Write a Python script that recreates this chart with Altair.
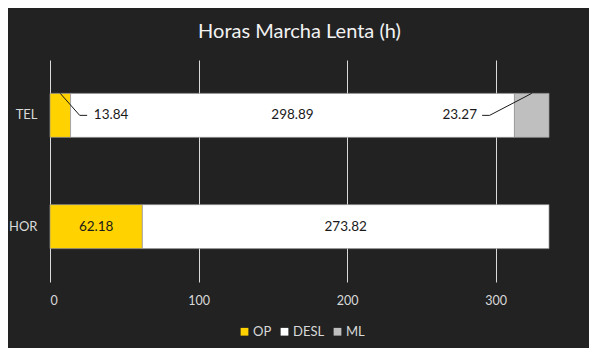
import altair as alt
import pandas as pd

categories = ["TEL", "HOR"]
series = ["OP", "DESL", "ML"]
op_vals = [13.84, 62.18]
desl_vals = [298.89, 273.82]
ml_vals = [23.27, 0.0]
colors = ["#FFD200", "#FFFFFF", "#BFBFBF"]

rows = []
for i, c in enumerate(categories):
    start = 0.0
    for s, v in zip(series, [op_vals[i], desl_vals[i], ml_vals[i]]):
        rows.append({"cat": c, "serie": s, "val": v, "start": start, "end": start + v,
                     "order": series.index(s)})
        start += v
df = pd.DataFrame(rows)
df = df[df["val"] > 0]

centered = df[~((df["cat"] == "TEL") & (df["serie"].isin(["OP", "ML"])))].copy()
centered["mid"] = (centered["start"] + centered["end"]) / 2
centered["txt"] = centered["val"].map(lambda v: f"{v:.2f}")

callout_cat = ["TEL", "TEL"]
callout_txt = ["13.84", "23.27"]
callout_from = [6.9, 324.4]
callout_elbow = [20.0, 296.0]
callout_end = [25.0, 291.0]
callout_label = [29.5, 287.5]
callout_align = ["left", "right"]
cdf = pd.DataFrame({"cat": callout_cat, "txt": callout_txt, "x0": callout_from,
                    "x1": callout_elbow, "x2": callout_end, "xl": callout_label,
                    "al": callout_align})

FONT = "Lato"
xscale = alt.Scale(domain=[0, 336], nice=False)
yscale = alt.Scale(domain=categories, paddingInner=0.605, paddingOuter=0.3)

base = alt.Chart(df)
bars = base.mark_bar(stroke="#9a9a9a", strokeWidth=0.7).encode(
    x=alt.X("start:Q", scale=xscale, title=None,
            axis=alt.Axis(values=[0, 100, 200, 300], grid=True, gridColor="#D9D9D9",
                          gridWidth=1, domain=False, ticks=False, labelColor="#D9D9D9",
                          labelFontSize=12.5, labelFont=FONT, labelPadding=12)),
    x2="end:Q",
    y=alt.Y("cat:N", scale=yscale, title=None, sort=categories,
            axis=alt.Axis(domain=False, ticks=False, labelColor="#D9D9D9",
                          labelFontSize=13, labelFont=FONT, labelPadding=13)),
    color=alt.Color("serie:N", scale=alt.Scale(domain=series, range=colors),
                    legend=alt.Legend(orient="none", legendX=188, legendY=265,
                                      direction="horizontal", title=None,
                                      symbolType="square", symbolSize=60,
                                      symbolStrokeWidth=0,
                                      labelColor="#D9D9D9", labelFontSize=13,
                                      labelFont=FONT, columnPadding=6,
                                      labelOffset=2)),
    order="order:Q",
)

labels = alt.Chart(centered).mark_text(font=FONT, fontSize=13.5, color="#1a1a1a").encode(
    x=alt.X("mid:Q", scale=xscale), y=alt.Y("cat:N", scale=yscale, sort=categories),
    text="txt:N")

diag = alt.Chart(cdf).mark_rule(color="#1a1a1a", strokeWidth=1, yOffset=-22, y2Offset=0).encode(
    x=alt.X("x0:Q", scale=xscale), x2="x1:Q",
    y=alt.Y("cat:N", scale=yscale, sort=categories), y2="cat")
tail = alt.Chart(cdf).mark_rule(color="#1a1a1a", strokeWidth=1).encode(
    x=alt.X("x1:Q", scale=xscale), x2="x2:Q",
    y=alt.Y("cat:N", scale=yscale, sort=categories))
clabels_l = alt.Chart(cdf[cdf["al"] == "left"]).mark_text(font=FONT, fontSize=13.5, color="#1a1a1a",
                                                           align="left").encode(
    x=alt.X("xl:Q", scale=xscale), y=alt.Y("cat:N", scale=yscale, sort=categories), text="txt:N")
clabels_r = alt.Chart(cdf[cdf["al"] == "right"]).mark_text(font=FONT, fontSize=13.5, color="#1a1a1a",
                                                            align="right").encode(
    x=alt.X("xl:Q", scale=xscale), y=alt.Y("cat:N", scale=yscale, sort=categories), text="txt:N")

chart = alt.layer(bars, labels, diag, tail, clabels_l, clabels_r).properties(
    width=499, height=222,
    background="#222222",
    padding={"left": 42, "top": 52, "right": 40, "bottom": 66},
    autosize=alt.AutoSizeParams(type="none"),
    title=alt.TitleParams("Horas Marcha Lenta (h)", color="#F2F2F2", fontSize=20,
                          font=FONT, fontWeight="normal", anchor="middle", offset=18),
).configure_view(strokeWidth=0)

chart.save("out.html", embed_options={"renderer": "svg", "actions": False})
